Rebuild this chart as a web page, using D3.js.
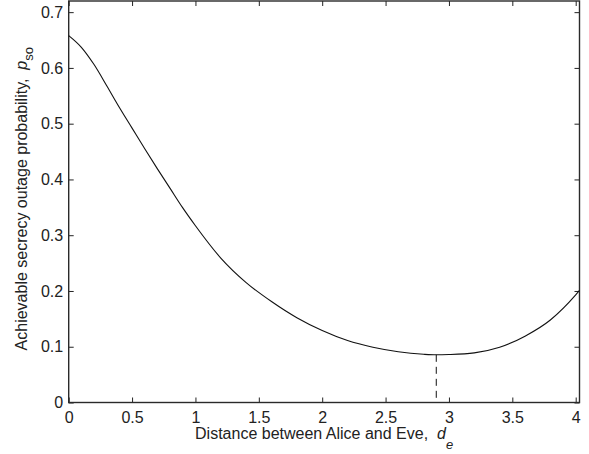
<!DOCTYPE html>
<html>
<head>
<meta charset="utf-8">
<script src="https://cdn.jsdelivr.net/npm/d3@7"></script>
<style>
  html, body { margin: 0; padding: 0; background: #fff; }
  svg text { font-family: "Liberation Sans", Arial, Helvetica, sans-serif; fill: #222; }
</style>
</head>
<body>
<svg id="chart" width="589" height="454"></svg>
<script>
// Data
const distance = [0, 0.1, 0.2, 0.3, 0.4, 0.5, 0.6, 0.7, 0.8, 0.9, 1.0, 1.2, 1.4, 1.6, 1.8, 2.0, 2.2, 2.4, 2.6, 2.8, 2.9, 3.0, 3.2, 3.4, 3.6, 3.8, 4.0, 4.03];
const outageProb = [0.658, 0.637, 0.606, 0.568, 0.529, 0.492, 0.455, 0.419, 0.384, 0.349, 0.317, 0.259, 0.215, 0.181, 0.152, 0.129, 0.111, 0.099, 0.091, 0.0865, 0.0855, 0.086, 0.089, 0.099, 0.119, 0.148, 0.193, 0.201];
const xTicks = [0, 0.5, 1, 1.5, 2, 2.5, 3, 3.5, 4];
const yTicks = [0, 0.1, 0.2, 0.3, 0.4, 0.5, 0.6, 0.7];
const optimumDistance = 2.9;
const optimumValue = 0.0855;

const W = 589, H = 454;
const margin = { left: 68.7, top: 1, right: 9.5, bottom: 51.5 };
const xMax = 4.03, yMax = 0.72;
const svg = d3.select("#chart");
const x = d3.scaleLinear().domain([0, xMax]).range([margin.left, W - margin.right]);
const y = d3.scaleLinear().domain([0, yMax]).range([H - margin.bottom, margin.top]);

const fmt = d => d === 0 ? "0" : d3.format("")(d);
const tickLen = 5;
const fs = 16;
const ink = "#222";

// Bottom axis (ticks inward)
const xb = svg.append("g").attr("transform", `translate(0,${y(0)})`)
  .call(d3.axisBottom(x).tickValues(xTicks).tickFormat(fmt).tickSizeInner(-tickLen).tickSizeOuter(0).tickPadding(9));
const xt = svg.append("g").attr("transform", `translate(0,${y(yMax)})`)
  .call(d3.axisTop(x).tickValues(xTicks).tickFormat("").tickSizeInner(-tickLen).tickSizeOuter(0));
const yl = svg.append("g").attr("transform", `translate(${x(0)},0)`)
  .call(d3.axisLeft(y).tickValues(yTicks).tickFormat(fmt).tickSizeInner(-tickLen).tickSizeOuter(0).tickPadding(5.5));
const yr = svg.append("g").attr("transform", `translate(${x(xMax)},0)`)
  .call(d3.axisRight(y).tickValues(yTicks).tickFormat("").tickSizeInner(-tickLen).tickSizeOuter(0));

[xb, xt, yl, yr].forEach(g => {
  g.select(".domain").remove();
  g.selectAll(".tick line").attr("stroke", ink).attr("stroke-width", 1);
  g.selectAll(".tick text").attr("font-size", fs).style("fill", ink)
    .attr("font-family", "'Liberation Sans', Arial, sans-serif");
});

// Box
svg.append("rect")
  .attr("x", x(0)).attr("y", y(yMax))
  .attr("width", x(xMax) - x(0)).attr("height", y(0) - y(yMax))
  .attr("fill", "none").attr("stroke", "#2a2a2a").attr("stroke-width", 1.4);

// Curve
svg.append("path")
  .datum(distance.map((d, i) => [d, outageProb[i]]))
  .attr("fill", "none").attr("stroke", "#111").attr("stroke-width", 1.1)
  .attr("d", d3.line().x(d => x(d[0])).y(d => y(d[1])).curve(d3.curveMonotoneX));

// Dashed marker at optimum
svg.append("line")
  .attr("x1", x(optimumDistance)).attr("x2", x(optimumDistance))
  .attr("y1", y(optimumValue)).attr("y2", y(0))
  .attr("stroke", "#111").attr("stroke-width", 1).attr("stroke-dasharray", "7,5");

// X label
const xlab = svg.append("text")
  .attr("x", (x(0) + x(xMax)) / 2).attr("y", 438.5)
  .attr("text-anchor", "middle").attr("font-size", fs)
  .attr("xml:space", "preserve").style("white-space", "pre");
xlab.append("tspan").text("Distance between Alice and Eve,  ");
xlab.append("tspan").attr("font-style", "italic").text("d");
xlab.append("tspan").attr("font-style", "italic").attr("font-size", 13).attr("dy", 10).text("e");

// Y label
const ylab = svg.append("text")
  .attr("transform", `translate(27,${(y(0) + y(yMax)) / 2 - 3}) rotate(-90)`)
  .attr("text-anchor", "middle").attr("font-size", fs)
  .attr("xml:space", "preserve").style("white-space", "pre");
ylab.append("tspan").text("Achievable secrecy outage probability,  ");
ylab.append("tspan").attr("font-style", "italic").text("p");
ylab.append("tspan").attr("font-size", 13).attr("dy", 6).text("so");
</script>
</body>
</html>
